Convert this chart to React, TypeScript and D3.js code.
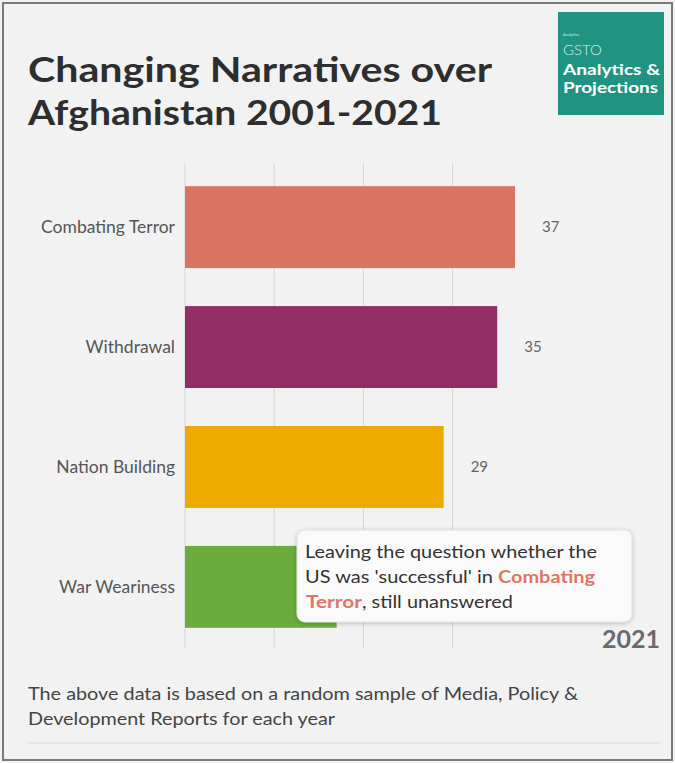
import React from "react";
import * as d3 from "d3";

const categories = ["Combating Terror", "Withdrawal", "Nation Building", "War Weariness"];
const values = [37, 35, 29, 17];
const colors = ["#d97463", "#922e66", "#edab00", "#6aad3e"];
const gridTicks = [0, 10, 20, 30];
const yearLabel = "2021";

const W = 675;
const H = 763;
const FONT = "Lato, 'Open Sans', sans-serif";
const HIGHLIGHT = "#e07565";
const TIP_FS = 16.5;

export default function App() {
  const x = d3.scaleLinear().domain([0, 40]).range([185, 185 + 356.8]);
  const y = d3
    .scaleBand<string>()
    .domain(categories)
    .range([167, 647])
    .paddingInner(0.317)
    .paddingOuter(0.16);

  return (
    <svg
      width={W}
      height={H}
      style={{ position: "absolute", left: 0, top: 0, background: "#f2f2f2" }}
      fontFamily={FONT}
    >
      <defs>
        <filter id="sh" x="-10%" y="-20%" width="120%" height="150%">
          <feDropShadow dx="0" dy="1" stdDeviation="2" floodColor="#000" floodOpacity="0.25" />
        </filter>
      </defs>
      <rect x={0} y={0} width={W} height={H} fill="#f2f2f2" />
      <rect x={3} y={3} width={669} height={757} fill="none" stroke="#7a7a7a" strokeWidth={2} />

      {/* Title */}
      <text x={28} y={82} fontSize={35} fontWeight={700} fill="#2e2e2e" textLength={464} lengthAdjust="spacingAndGlyphs">
        Changing Narratives over
      </text>
      <text x={28} y={125} fontSize={35} fontWeight={700} fill="#2e2e2e" textLength={414} lengthAdjust="spacingAndGlyphs">
        Afghanistan 2001-2021
      </text>

      {/* Logo */}
      <rect x={558} y={12} width={106} height={103} fill="#1f9483" />
      <text x={563} y={36} fontSize={4} fill="#cfe9e4">Analytics</text>
      <text x={563} y={55} fontSize={14} fill="#d8efea" fontWeight={300} textLength={39} lengthAdjust="spacingAndGlyphs">GSTO</text>
      <text x={563} y={75} fontSize={15} fill="#ffffff" fontWeight={700} textLength={97} lengthAdjust="spacingAndGlyphs">
        Analytics &amp;
      </text>
      <text x={563} y={93} fontSize={15} fill="#ffffff" fontWeight={700} textLength={95} lengthAdjust="spacingAndGlyphs">
        Projections
      </text>

      {/* Gridlines */}
      {gridTicks.map((t) => (
        <line key={t} x1={x(t)} x2={x(t)} y1={163} y2={648} stroke="#d6d6d6" strokeWidth={1} />
      ))}

      {/* Bars */}
      {categories.map((c, i) => (
        <g key={c}>
          <rect x={x(0)} y={y(c)!} width={x(values[i]) - x(0)} height={y.bandwidth()} fill={colors[i]} />
          <text
            x={175}
            y={y(c)! + y.bandwidth() / 2}
            dy="0.35em"
            textAnchor="end"
            fontSize={17.5}
            fill="#555"
          >
            {c}
          </text>
          <text
            x={x(values[i]) + 27}
            y={y(c)! + y.bandwidth() / 2}
            dy="0.35em"
            fontSize={15}
            fill="#666"
          >
            {values[i]}
          </text>
        </g>
      ))}

      {/* Tooltip */}
      <rect x={297} y={530} width={335} height={92} rx={8} fill="#fafafa" stroke="#e2e2e2" filter="url(#sh)" />
      <text x={305} y={558} fontSize={TIP_FS} fill="#333" textLength={292} lengthAdjust="spacingAndGlyphs">
        Leaving the question whether the
      </text>
      <text x={305} y={583} fontSize={TIP_FS} fill="#333" textLength={188} lengthAdjust="spacingAndGlyphs">
        US was 'successful' in
      </text>
      <text x={498} y={583} fontSize={TIP_FS} fill={HIGHLIGHT} fontWeight={700} textLength={97} lengthAdjust="spacingAndGlyphs">
        Combating
      </text>
      <text x={306} y={608} fontSize={TIP_FS} fill={HIGHLIGHT} fontWeight={700} textLength={56} lengthAdjust="spacingAndGlyphs">
        Terror
      </text>
      <text x={362} y={608} fontSize={TIP_FS} fill="#333" textLength={151} lengthAdjust="spacingAndGlyphs">
        , still unanswered
      </text>

      {/* Year */}
      <text x={660} y={648} textAnchor="end" fontSize={25} fontWeight={700} fill="#6a6a6a">
        {yearLabel}
      </text>

      {/* Footer */}
      <text x={28} y={700} fontSize={18} fill="#444" textLength={550} lengthAdjust="spacingAndGlyphs">
        The above data is based on a random sample of Media, Policy &amp;
      </text>
      <text x={28} y={725} fontSize={18} fill="#444" textLength={307} lengthAdjust="spacingAndGlyphs">
        Development Reports for each year
      </text>
      <line x1={28} x2={660} y1={743} y2={743} stroke="#e0e0e0" strokeWidth={1.5} />
    </svg>
  );
}
